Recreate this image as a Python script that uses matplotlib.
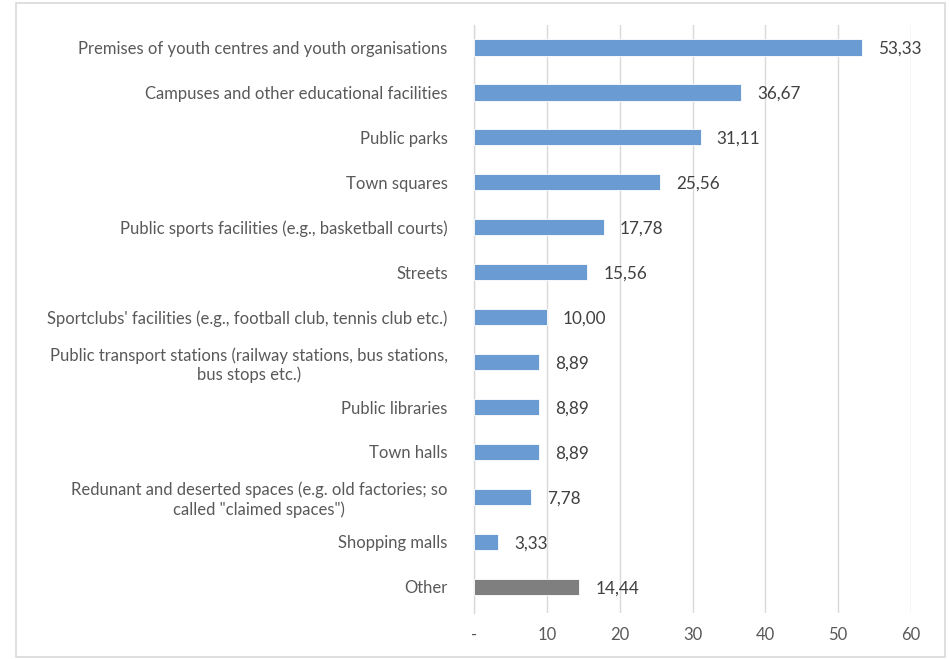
import matplotlib
matplotlib.use("Agg")
import matplotlib.pyplot as plt
from matplotlib.patches import Rectangle

categories = [
    "Premises of youth centres and youth organisations",
    "Campuses and other educational facilities",
    "Public parks",
    "Town squares",
    "Public sports facilities (e.g., basketball courts)",
    "Streets",
    "Sportclubs' facilities (e.g., football club, tennis club etc.)",
    "Public transport stations (railway stations, bus stations,\nbus stops etc.)",
    "Public libraries",
    "Town halls",
    "Redunant and deserted spaces (e.g. old factories; so\ncalled \"claimed spaces\")",
    "Shopping malls",
    "Other",
]
values = [53.33, 36.67, 31.11, 25.56, 17.78, 15.56, 10.00, 8.89, 8.89, 8.89, 7.78, 3.33, 14.44]
bar_colors = ["#6A9BD3"] * 12 + ["#7F7F7F"]
x_ticks = [0, 10, 20, 30, 40, 50, 60]
x_tick_labels = ["-", "10", "20", "30", "40", "50", "60"]

plt.rcParams["font.family"] = ["Lato", "DejaVu Sans"]

fig = plt.figure(figsize=(9.49, 6.59), dpi=100)
ax = fig.add_axes([0.4995, 0.070, 0.4605, 0.892])

ypos = list(range(len(categories)))
ax.barh(ypos, values, height=0.36, color=bar_colors, edgecolor="white", linewidth=0.6, zorder=3)

for y, v in zip(ypos, values):
    ax.text(v + 2.2, y + 0.03, f"{v:.2f}".replace(".", ","), va="center", ha="left",
            fontsize=12.3, color="#404040")

ax.set_xlim(0, 60)
ax.set_ylim(12.58, -0.5)
ax.set_xticks(x_ticks)
ax.set_xticklabels(x_tick_labels)
ax.set_yticks(ypos)
ax.set_yticklabels(categories, ha="right", multialignment="center")

ax.tick_params(axis="both", length=0, colors="#595959", labelsize=12)
ax.tick_params(axis="y", pad=19)
ax.tick_params(axis="x", pad=10)

ax.grid(axis="x", color="#D9D9D9", linewidth=1, zorder=0)
for s in ["top", "right", "bottom"]:
    ax.spines[s].set_visible(False)
ax.spines["left"].set_color("#D9D9D9")
ax.spines["left"].set_linewidth(1)

fig.patches.append(Rectangle((16 / 949, 2 / 659), 929 / 949, 654 / 659,
                             transform=fig.transFigure, fill=False,
                             edgecolor="#D9D9D9", linewidth=1.2))

fig.savefig("out.png", dpi=100)
